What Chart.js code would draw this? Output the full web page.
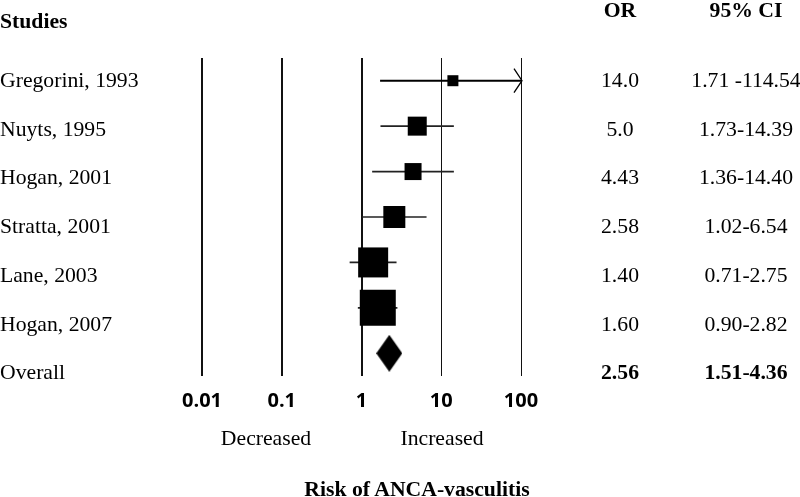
<!DOCTYPE html>
<html>
<head>
<meta charset="utf-8">
<script src="https://cdn.jsdelivr.net/npm/chart.js@4"></script>
<style>
  html, body { margin: 0; padding: 0; background: #fff; }
  #wrap { position: relative; width: 800px; height: 497px; overflow: hidden; }
  #wrap canvas { position: absolute; left: 0; top: 0; }
  .t { position: absolute; font-family: "Liberation Serif", "Times New Roman", serif; font-size: 21.7px; color: #000; white-space: nowrap; line-height: 1; }
  .l { transform: translateY(-50%); }
  .c { transform: translate(-50%, -50%); }
  .b { font-weight: bold; }
</style>
</head>
<body>
<div id="wrap">
  <canvas id="chart" width="800" height="497"></canvas>
</div>
<script>
(function () {
  "use strict";

  // data
  var studies = ["Gregorini, 1993", "Nuyts, 1995", "Hogan, 2001", "Stratta, 2001", "Lane, 2003", "Hogan, 2007"];
  var oddsRatio = [14.0, 5.0, 4.43, 2.58, 1.40, 1.60];
  var ciLow = [1.71, 1.73, 1.36, 1.02, 0.71, 0.90];
  var ciHigh = [114.54, 14.39, 14.40, 6.54, 2.75, 2.82];
  var orText = ["14.0", "5.0", "4.43", "2.58", "1.40", "1.60"];
  var ciText = ["1.71 -114.54", "1.73-14.39", "1.36-14.40", "1.02-6.54", "0.71-2.75", "0.90-2.82"];
  var overallLabel = "Overall";
  var overallText = ["2.56", "1.51-4.36"];
  var overallMark = 2.23; // diamond centre as drawn in the figure
  var xTicks = [0.01, 0.1, 1, 10, 100];
  var tickLabels = ["0.01", "0.1", "1", "10", "100"];

  // styling
  var boxSide = [11, 19, 17, 22, 30, 36];
  var gridWidth = [2, 2, 2, 1, 1];
  var rowTextY = [81, 130, 178, 227, 276, 325, 373];

  var wrap = document.getElementById("wrap");
  function addText(txt, x, y, cls) {
    var d = document.createElement("div");
    d.className = "t " + cls;
    d.style.left = x + "px";
    d.style.top = y + "px";
    d.textContent = txt;
    wrap.appendChild(d);
  }

  addText("Studies", 0, 22, "l b");
  addText("OR", 620, 11, "c b");
  addText("95% CI", 746, 11, "c b");
  studies.forEach(function (s, i) {
    addText(s, 0, rowTextY[i], "l");
    addText(orText[i], 620, rowTextY[i], "c");
    addText(ciText[i], 746, rowTextY[i], "c");
  });
  addText(overallLabel, 0, rowTextY[6], "l");
  addText(overallText[0], 620, rowTextY[6], "c b");
  addText(overallText[1], 746, rowTextY[6], "c b");
  addText("Decreased", 266, 439, "c");
  addText("Increased", 442, 439, "c");
  addText("Risk of ANCA-vasculitis", 417, 490, "c b");

  // diamond image for the pooled estimate
  var diamond = document.createElement("canvas");
  diamond.width = 26; diamond.height = 37;
  var dc = diamond.getContext("2d");
  dc.fillStyle = "#000";
  dc.beginPath();
  dc.moveTo(13, 0); dc.lineTo(26, 18.5); dc.lineTo(13, 37); dc.lineTo(0, 18.5);
  dc.closePath(); dc.fill();

  var datasets = [];
  datasets.push({
    type: "scatter",
    data: oddsRatio.map(function (v, i) { return { x: v, y: i }; }),
    pointStyle: "rect",
    pointRadius: boxSide.map(function (s) { return s / Math.SQRT2; }),
    backgroundColor: "#000",
    borderWidth: 0
  });
  datasets.push({
    type: "scatter",
    data: [{ x: overallMark, y: 6 }],
    pointStyle: diamond,
    pointRadius: 13
  });
  studies.forEach(function (s, i) {
    datasets.push({
      type: "line",
      data: [{ x: ciLow[i], y: i }, { x: ciHigh[i], y: i }],
      borderColor: i === 0 ? "#000" : "#222",
      borderWidth: i === 0 ? 2 : 1.7,
      pointRadius: 0,
      clip: 0
    });
  });

  var arrowHeads = {
    id: "arrowHeads",
    afterDatasetsDraw: function (chart) {
      var xs = chart.scales.x, ys = chart.scales.y, ctx = chart.ctx;
      ctx.save();
      ctx.strokeStyle = "#000";
      ctx.lineWidth = 1.3;
      ciHigh.forEach(function (hi, i) {
        if (hi <= xs.max) return;
        var x = xs.getPixelForValue(xs.max) + 1, y = ys.getPixelForValue(i);
        ctx.beginPath();
        ctx.moveTo(x - 8, y - 12);
        ctx.lineTo(x, y);
        ctx.lineTo(x - 8, y + 12);
        ctx.stroke();
      });
      ctx.restore();
    }
  };

  new Chart(document.getElementById("chart").getContext("2d"), {
    data: { datasets: datasets },
    plugins: [arrowHeads],
    options: {
      responsive: false,
      animation: false,
      layout: { padding: { left: 202, right: 279, top: 58, bottom: 71 } },
      plugins: { legend: { display: false }, tooltip: { enabled: false } },
      scales: {
        x: {
          type: "logarithmic",
          min: 0.01,
          max: 100,
          afterBuildTicks: function (axis) {
            axis.ticks = xTicks.map(function (v) { return { value: v }; });
          },
          ticks: {
            autoSkip: false,
            maxRotation: 0,
            padding: 13,
            color: "#000",
            font: { family: "'Open Sans', sans-serif", size: 20, weight: "bold" },
            callback: function (v) {
              var k = xTicks.indexOf(v);
              return k >= 0 ? tickLabels[k] : "";
            }
          },
          grid: {
            drawTicks: false,
            color: "#111",
            lineWidth: function (c) { return gridWidth[c.index] || 1; }
          },
          border: { display: false }
        },
        y: {
          type: "linear",
          min: -0.5,
          max: 6.5,
          reverse: true,
          display: false
        }
      }
    }
  });
})();
</script>
</body>
</html>
